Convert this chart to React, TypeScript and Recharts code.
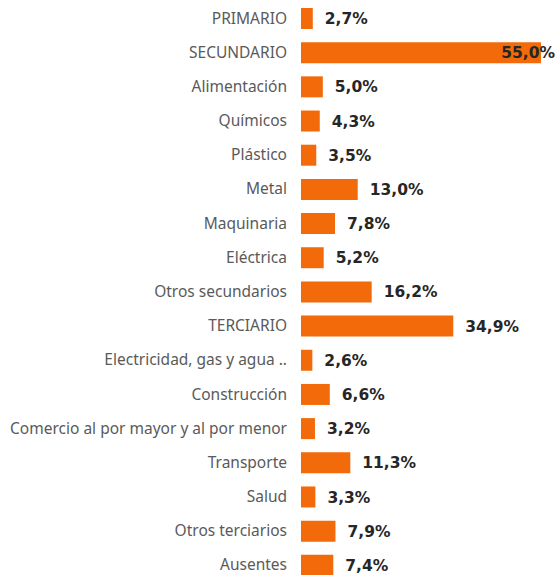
import React from "react";
import { BarChart, Bar, XAxis, YAxis, LabelList } from "recharts";

const categories = [
  "PRIMARIO",
  "SECUNDARIO",
  "Alimentación",
  "Químicos",
  "Plástico",
  "Metal",
  "Maquinaria",
  "Eléctrica",
  "Otros secundarios",
  "TERCIARIO",
  "Electricidad, gas y agua ..",
  "Construcción",
  "Comercio al por mayor y al por menor",
  "Transporte",
  "Salud",
  "Otros terciarios",
  "Ausentes",
];
const values = [2.7, 55.0, 5.0, 4.3, 3.5, 13.0, 7.8, 5.2, 16.2, 34.9, 2.6, 6.6, 3.2, 11.3, 3.3, 7.9, 7.4];

const data = categories.map((c, i) => ({ name: c, value: values[i] }));

const fmt = (v: number) => v.toFixed(1).replace(".", ",") + "%";

const ValueLabel = (props: any) => {
  const { x, y, width, height, value } = props;
  const text = fmt(Number(value));
  const endX = x + width + 12;
  const approxW = text.length * 9.5;
  const overflow = endX + approxW > 555;
  return (
    <text
      x={overflow ? 555 : endX}
      y={y + height / 2}
      dy="0.36em"
      textAnchor={overflow ? "end" : "start"}
      fontFamily="'DejaVu Sans', Verdana, sans-serif"
      fontWeight="bold"
      fontSize={15.5}
      fill="#262626"
    >
      {text}
    </text>
  );
};

export default function App() {
  return (
    <div style={{ position: "absolute", left: 0, top: 0, width: 557, height: 575, overflow: "hidden", background: "#fff" }}>
      <BarChart
        width={557}
        height={582}
        data={data}
        layout="vertical"
        margin={{ top: 1, right: 16, bottom: 0, left: 0 }}
      >
        <XAxis type="number" domain={[0, 55]} hide />
        <YAxis
          type="category"
          dataKey="name"
          width={301}
          axisLine={false}
          tickLine={false}
          tickSize={0}
          tickMargin={14}
          interval={0}
          tick={{ fill: "#5a5a5a", fontSize: 15.5, fontFamily: "'Noto Sans', sans-serif" }}
        />
        <Bar dataKey="value" fill="#f26a0a" barSize={21} isAnimationActive={false}>
          <LabelList dataKey="value" content={ValueLabel} />
        </Bar>
      </BarChart>
    </div>
  );
}
